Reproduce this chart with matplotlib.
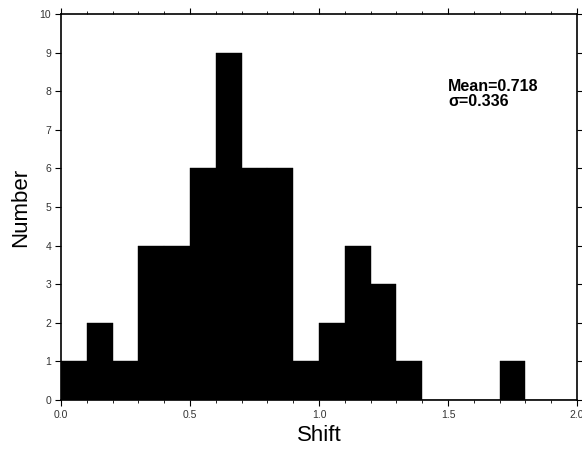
import numpy as np
import matplotlib.pyplot as plt

plt.rcParams['font.family'] = ['Liberation Sans', 'DejaVu Sans']

# histogram bins (width 0.1) and counts
bin_edges = np.round(np.arange(0, 2.01, 0.1), 2)
counts = [1, 2, 1, 4, 4, 6, 9, 6, 6, 1, 2, 4, 3, 1, 0, 0, 0, 1, 0, 0]
mean_val = 0.718
sigma_val = 0.336

fig = plt.figure(figsize=(5.82, 4.53), dpi=100)
ax = fig.add_axes([0.1048, 0.117, 0.8866, 0.852])

ax.bar(bin_edges[:-1], counts, width=0.1, align='edge', color='black',
       edgecolor='black', linewidth=0.3)

ax.set_xlim(0, 2.0)
ax.set_ylim(0, 10)
ax.set_xticks([0.0, 0.5, 1.0, 1.5, 2.0])
ax.set_xticks(np.arange(0, 2.01, 0.1), minor=True)
ax.set_xticklabels(['0.0', '0.5', '1.0', '1.5', '2.0'])
ax.set_yticks(range(0, 11))

ax.tick_params(axis='both', which='major', direction='out', length=4,
               width=0.8, labelsize=7.5, labelcolor='#333333', pad=3,
               top=True, right=True)
ax.tick_params(axis='both', which='minor', direction='out', length=2,
               width=0.6, top=True)
for s in ax.spines.values():
    s.set_linewidth(1.2)

ax.set_xlabel('Shift', fontsize=16, labelpad=4)
ax.set_ylabel('Number', fontsize=16, labelpad=6)

ax.text(1.5, 7.93, 'Mean=%.3f\n\u03c3=%.3f' % (mean_val, sigma_val),
        fontsize=11.5, fontweight='bold', ha='left', va='center',
        linespacing=1.05)

fig.savefig('out.png', dpi=100)
